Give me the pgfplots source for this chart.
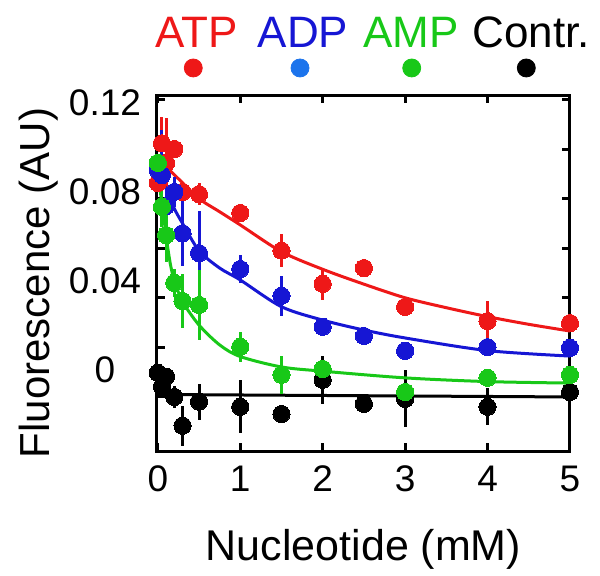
\documentclass[border=0pt]{standalone}
\usepackage{fontspec}
\setmainfont{Liberation Sans}
\usepackage{pgfplots}
\pgfplotsset{compat=1.18}
\definecolor{cred}{RGB}{238,24,24}
\definecolor{cblue}{RGB}{22,22,212}
\definecolor{cgreen}{RGB}{24,200,24}
\definecolor{clblue}{RGB}{28,116,236}
\pgfplotsset{
  pts/.style={only marks, mark=*, mark size=4.3pt, mark options={draw=#1, fill=#1, line width=0pt},
    error bars/.cd, y dir=both, y explicit, error mark=none, error bar style={line width=1.5pt, #1}},
  fit/.style={#1, line width=1.5pt, smooth, no marks},
}
\begin{document}
\begin{tikzpicture}
\useasboundingbox (-78.5pt,-62pt) rectangle (221.5pt,225.5pt);
\begin{axis}[
  at={(0pt,0pt)}, anchor=south west,
  scale only axis, width=206.5pt, height=178pt,
  xmin=-0.01, xmax=5.0, ymin=-0.0218, ymax=0.1218,
  clip=false,
  axis line style={line width=1.5pt, black},
  every tick/.style={line width=1.5pt, black},
  major tick length=4pt,
  tick align=inside, xtick pos=both, ytick pos=both,
  xtick={0,1,2,3,4,5},
  ytick={0,0.02,0.04,0.06,0.08,0.10,0.12},
  yticklabels={},
  extra y ticks={0.0109,0.0468,0.0827,0.1185},
  extra y tick labels={0,0.04,0.08,0.12},
  extra y tick style={major tick length=0pt},
  /pgf/number format/assume math mode=true,
  xticklabel style={font=\fontsize{18.5}{20}\selectfont, anchor=base, yshift=-20pt},
  yticklabel style={font=\fontsize{18.5}{20}\selectfont, anchor=center, xshift=-26pt},
  xlabel={Nucleotide (mM)},
  ylabel={Fluorescence (AU)},
  xlabel style={font=\fontsize{21.5}{24}\selectfont, at={(axis description cs:0.5,0)}, anchor=base, yshift=-54.5pt},
  ylabel style={font=\fontsize{21}{24}\selectfont, at={(axis description cs:0,0.472)}, anchor=base, yshift=53.5pt},
]
% control line
\addplot[black, line width=1.5pt, no marks] coordinates {(0,0.001) (5,0.0)};
% Control
\addplot[pts=black] coordinates {
 (0,0.0097) +- (0,0)
 (0.05,0.0042) +- (0,0.003)
 (0.1,0.0082) +- (0,0)
 (0.2,0.0000) +- (0,0.0045)
 (0.3,-0.0116) +- (0,0.008)
 (0.5,-0.0019) +- (0,0.0073)
 (1,-0.0040) +- (0,0.0107)
 (1.5,-0.0069) +- (0,0.0015)
 (2,0.0069) +- (0,0.0097)
 (2.5,-0.0028) +- (0,0.0015)
 (3,-0.0008) +- (0,0.0115)
 (4,-0.0040) +- (0,0.0075)
 (5,0.0020) +- (0,0.002)
};
% ATP
\addplot[fit=cred] coordinates {(0,0.097) (0.1,0.093) (0.25,0.088) (0.5,0.080) (0.75,0.0747) (1,0.0694) (1.5,0.0586) (2,0.0515) (2.5,0.0455) (3,0.040) (3.5,0.036) (4,0.0324) (4.5,0.0293) (5,0.0266)};
\addplot[pts=cred] coordinates {
 (0,0.0863) +- (0,0)
 (0.05,0.1023) +- (0,0.0106)
 (0.1,0.0944) +- (0,0.018)
 (0.2,0.1000) +- (0,0)
 (0.3,0.0827) +- (0,0.004)
 (0.5,0.0818) +- (0,0.0045)
 (1,0.0742) +- (0,0.003)
 (1.5,0.0590) +- (0,0.0067)
 (2,0.0456) +- (0,0.0066)
 (2.5,0.0520) +- (0,0.001)
 (3,0.0363) +- (0,0.003)
 (4,0.0306) +- (0,0.008)
 (5,0.0298) +- (0,0.001)
};
% ADP
\addplot[fit=cblue] coordinates {(0,0.092) (0.1,0.084) (0.2,0.076) (0.3,0.070) (0.5,0.059) (0.75,0.052) (1,0.0472) (1.5,0.0364) (2,0.031) (2.5,0.027) (3,0.0238) (4,0.0187) (5,0.0165)};
\addplot[pts=cblue] coordinates {
 (0,0.0915) +- (0,0)
 (0.05,0.0895) +- (0,0.018)
 (0.1,0.0770) +- (0,0.006)
 (0.2,0.0827) +- (0,0.006)
 (0.3,0.0660) +- (0,0.013)
 (0.5,0.0580) +- (0,0.017)
 (1,0.0516) +- (0,0.0058)
 (1.5,0.0408) +- (0,0.008)
 (2,0.0283) +- (0,0.001)
 (2.5,0.0246) +- (0,0.001)
 (3,0.0186) +- (0,0.001)
 (4,0.0201) +- (0,0.001)
 (5,0.0198) +- (0,0.001)
};
% AMP
\addplot[fit=cgreen] coordinates {(0,0.094) (0.03,0.083) (0.07,0.0734) (0.1,0.065) (0.15,0.054) (0.2,0.047) (0.3,0.0385) (0.5,0.029) (0.75,0.021) (1,0.0163) (1.5,0.0121) (2,0.0104) (3,0.0077) (4,0.0062) (5,0.0056)};
\addplot[pts=cgreen] coordinates {
 (0,0.0944) +- (0,0)
 (0.05,0.0767) +- (0,0.008)
 (0.1,0.0653) +- (0,0.011)
 (0.2,0.0460) +- (0,0.0055)
 (0.3,0.0387) +- (0,0.011)
 (0.5,0.0371) +- (0,0.014)
 (1,0.0202) +- (0,0.006)
 (1.5,0.0089) +- (0,0.0077)
 (2,0.0113) +- (0,0.001)
 (3,0.0020) +- (0,0.001)
 (4,0.0077) +- (0,0.001)
 (5,0.0089) +- (0,0.001)
};
% legend
\addplot[only marks, mark=*, mark size=4.5pt, cred] coordinates {(0.43,0.1327)};
\addplot[only marks, mark=*, mark size=4.5pt, clblue] coordinates {(1.725,0.1327)};
\addplot[only marks, mark=*, mark size=4.5pt, cgreen] coordinates {(3.08,0.1327)};
\addplot[only marks, mark=*, mark size=4.5pt, black] coordinates {(4.47,0.1327)};
\node[anchor=base, font=\fontsize{22}{24}\selectfont, text=cred, inner sep=0pt] at (axis cs:0.466,0.1411) {ATP};
\node[anchor=base, font=\fontsize{22}{24}\selectfont, text=cblue, inner sep=0pt] at (axis cs:1.76,0.1411) {ADP};
\node[anchor=base, font=\fontsize{22}{24}\selectfont, text=cgreen, inner sep=0pt] at (axis cs:3.07,0.1411) {AMP};
\node[anchor=base, font=\fontsize{22}{24}\selectfont, text=black, inner sep=0pt] at (axis cs:4.53,0.1411) {Contr.};
\end{axis}
\end{tikzpicture}
\end{document}
